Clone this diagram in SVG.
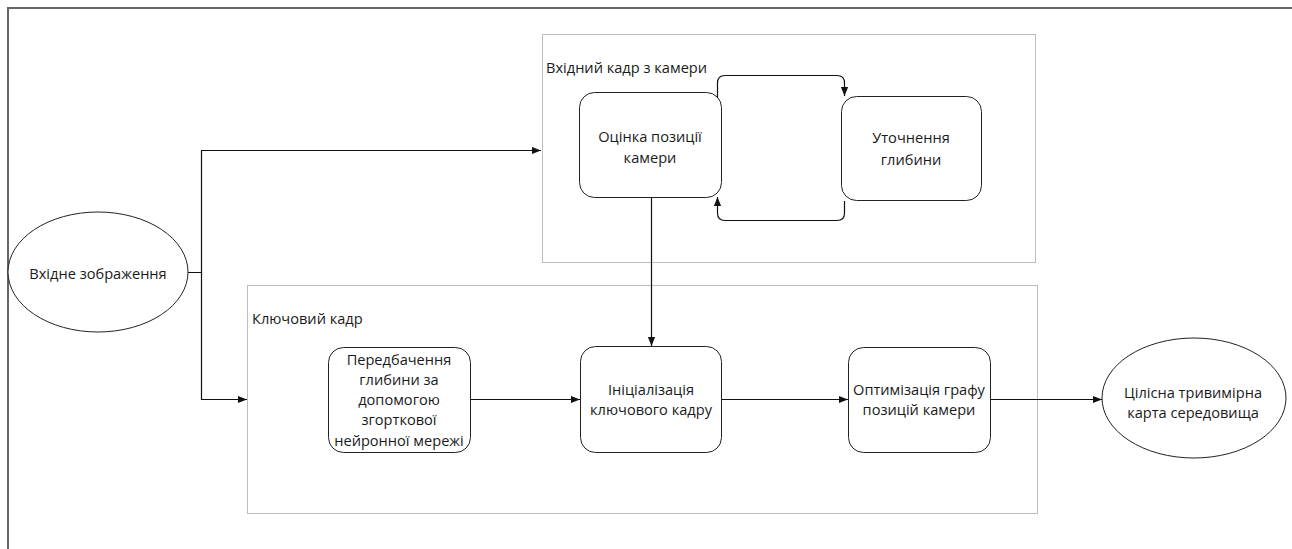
<svg xmlns="http://www.w3.org/2000/svg" width="1292" height="549" viewBox="0 0 1292 549">
<style>
.t{font-family:"Open Sans","Liberation Sans",sans-serif;font-size:14.6px;fill:#1a1a1a;text-anchor:middle}
.lbl{font-family:"Open Sans","Liberation Sans",sans-serif;font-size:14.6px;fill:#1a1a1a}
.box{fill:#fff;stroke:#222;stroke-width:1}
.cont{fill:#fff;stroke:#bdbdbd;stroke-width:1}
.c{fill:none;stroke:#111;stroke-width:1.2}
</style>
<defs>
<marker id="ah" viewBox="0 0 10 10" refX="10" refY="5" markerWidth="9" markerHeight="9" markerUnits="userSpaceOnUse" orient="auto">
<path d="M0,1 L10,5 L0,9 z" fill="#111"/>
</marker>
</defs>
<rect width="1292" height="549" fill="#fff"/>
<path d="M8,549 V8 H1292" fill="none" stroke="#666" stroke-width="2"/>
<g id="container-input-frame">
<rect class="cont" x="542.5" y="34.5" width="493" height="228"/>
<text class="lbl" x="546" y="73">Вхідний кадр з камери</text>
</g>
<g id="container-keyframe">
<rect class="cont" x="247.5" y="285.5" width="790" height="228"/>
<text class="lbl" x="252" y="324">Ключовий кадр</text>
</g>
<g id="node-input-image">
<ellipse class="box" cx="98" cy="272" rx="90" ry="60"/>
<text class="t" x="98" y="279">Вхідне зображення</text>
</g>
<g id="node-pose">
<rect class="box" x="579.5" y="92.5" width="142" height="105" rx="15"/>
<text class="t" x="650" y="142">Оцінка позиції</text>
<text class="t" x="650" y="163">камери</text>
</g>
<g id="node-refine">
<rect class="box" x="841.5" y="96.5" width="140" height="104" rx="15"/>
<text class="t" x="911" y="143">Уточнення</text>
<text class="t" x="911" y="165">глибини</text>
</g>
<g id="node-cnn">
<rect class="box" x="328.5" y="347.5" width="142" height="105" rx="15"/>
<text class="t" x="399" y="365">Передбачення</text>
<text class="t" x="399" y="385">глибини за</text>
<text class="t" x="399" y="405">допомогою</text>
<text class="t" x="399" y="425">згорткової</text>
<text class="t" x="399" y="446">нейронної мережі</text>
</g>
<g id="node-init">
<rect class="box" x="580.5" y="346.5" width="141" height="106" rx="15"/>
<text class="t" x="651" y="395">Ініціалізація</text>
<text class="t" x="651" y="415">ключового кадру</text>
</g>
<g id="node-opt">
<rect class="box" x="848.5" y="347.5" width="142" height="105" rx="15"/>
<text class="t" x="919" y="395">Оптимізація графу</text>
<text class="t" x="919" y="415">позицій камери</text>
</g>
<g id="node-map">
<ellipse class="box" cx="1194" cy="398" rx="92" ry="60"/>
<text class="t" x="1193" y="398">Цілісна тривимірна</text>
<text class="t" x="1193" y="418">карта середовища</text>
</g>
<g id="connectors">
<path class="c" d="M188,272.5 H201.5 V150.5 H541" marker-end="url(#ah)"/>
<path class="c" d="M201.5,272.5 V399.5 H247" marker-end="url(#ah)"/>
<path class="c" d="M717.5,98 V83 Q717.5,75.5 725,75.5 H837 Q844.5,75.5 844.5,83 V96" marker-end="url(#ah)"/>
<path class="c" d="M844.5,201 V213 Q844.5,220.5 837,220.5 H725 Q717.5,220.5 717.5,213 V197" marker-end="url(#ah)"/>
<path class="c" d="M651.5,198 V346" marker-end="url(#ah)"/>
<path class="c" d="M471,399.5 H580" marker-end="url(#ah)"/>
<path class="c" d="M722,399.5 H848" marker-end="url(#ah)"/>
<path class="c" d="M991,399.5 H1102" marker-end="url(#ah)"/>
</g>
</svg>
